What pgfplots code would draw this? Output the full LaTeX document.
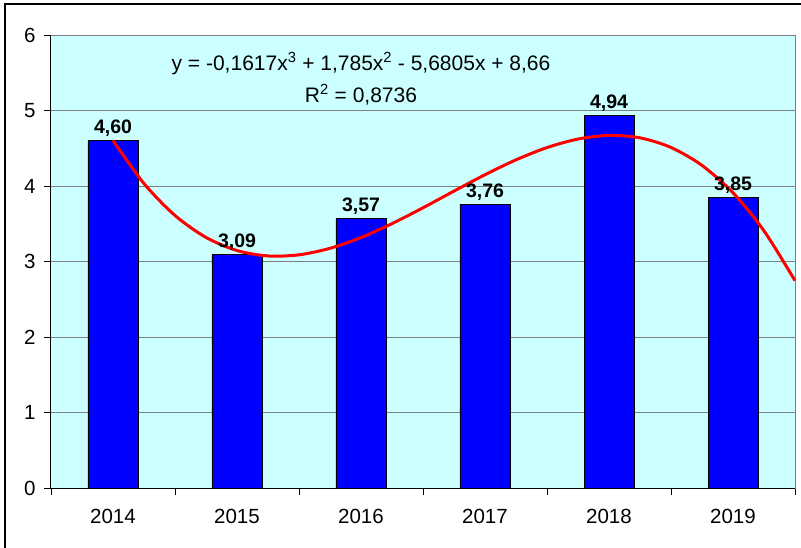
\documentclass[border=0pt]{standalone}
\usepackage{fontspec}
\setmainfont{Liberation Sans}
\usepackage{pgfplots}
\pgfplotsset{compat=1.18}
\definecolor{bgcyan}{RGB}{204,255,255}
\definecolor{gridgray}{RGB}{128,128,128}
\begin{document}
\begin{tikzpicture}
\begin{axis}[
  at={(0pt,0pt)}, anchor=south west,
  scale only axis, width=744pt, height=453pt,
  xmin=0.5, xmax=6.5, ymin=0, ymax=6,
  axis background/.style={fill=bgcyan},
  axis line style={gridgray, line width=1pt},
  xtick={1,2,3,4,5,6},
  xticklabels={2014,2015,2016,2017,2018,2019},
  minor xtick={0.5,1.5,2.5,3.5,4.5,5.5,6.5},
  ytick={0,1,2,3,4,5,6},
  tick align=outside,
  x tick style={draw=none},
  minor x tick style={draw=black, line width=0.8pt},
  minor tick length=7pt,
  y tick style={draw=black, line width=0.8pt},
  major tick length=7pt,
  xtick pos=bottom, ytick pos=left,
  ymajorgrids, grid style={gridgray, line width=1pt},
  tick label style={font=\fontsize{20.5}{22}\selectfont, text=black},
  xticklabel style={yshift=-11pt},
  yticklabel style={xshift=-5pt},
  /pgf/number format/assume math mode=true,
  clip=false,
]
\addplot[ybar, bar width=50pt, fill=blue, draw=black, line width=0.8pt,
  nodes near coords,
  nodes near coords style={font=\fontsize{19.5}{22}\selectfont\bfseries, text=black,
    /pgf/number format/.cd, fixed, fixed zerofill, precision=2, use comma, assume math mode=true},
] coordinates {(1,4.60) (2,3.09) (3,3.57) (4,3.76) (5,4.94) (6,3.85)};
\addplot[red, line width=3pt, smooth, no markers] coordinates {
(1,4.6028) (1.25,4.0326) (1.5,3.6098) (1.75,3.3191) (2,3.1454) (2.25,3.0736)
(2.5,3.0884) (2.75,3.1748) (3,3.3176) (3.25,3.5016) (3.5,3.7116) (3.75,3.9325)
(4,4.1492) (4.25,4.3464) (4.5,4.5091) (4.75,4.6220) (5,4.67) (5.25,4.6379)
(5.5,4.5107) (5.75,4.2730) (6,3.9098) (6.25,3.4059) (6.5,2.7461)};
\draw[black, line width=1pt] (rel axis cs:0,1) -- (rel axis cs:0,0) -- (rel axis cs:1,0);
\node[align=center, font=\fontsize{21}{32}\selectfont] at (axis cs:3.0,5.42)
  {y = -0,1617x\textsuperscript{3} + 1,785x\textsuperscript{2} - 5,6805x + 8,66\\R\textsuperscript{2} = 0,8736};
\end{axis}
\draw[black, line width=2pt] (-46pt,-80pt) rectangle (770pt,484pt);
\pgfresetboundingbox
\useasboundingbox (-51pt,-59pt) rectangle (750pt,488pt);
\end{tikzpicture}
\end{document}
